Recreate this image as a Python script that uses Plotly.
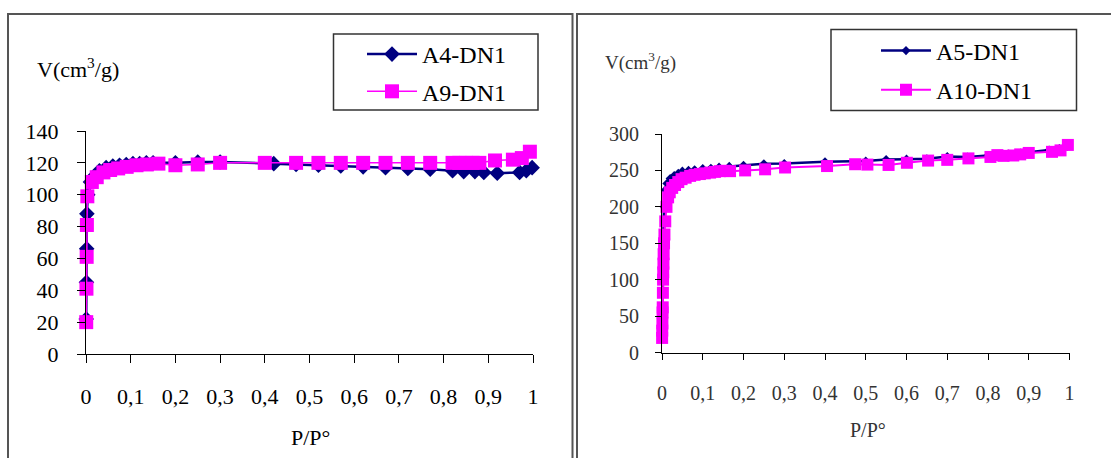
import plotly.graph_objects as go

# ---------------- data ----------------
# Left panel
a4_x = [0.0005, 0.001, 0.0015, 0.002, 0.004, 0.01, 0.02, 0.03, 0.045, 0.06, 0.075, 0.09,
        0.105, 0.12, 0.135, 0.15, 0.2, 0.25, 0.3, 0.42, 0.47, 0.52, 0.57, 0.62, 0.67,
        0.72, 0.77, 0.82, 0.845, 0.87, 0.89, 0.92, 0.97, 0.985, 0.998]
a4_y = [22, 45, 66, 88, 100, 108, 112, 115, 117, 118, 118.5, 119,
        119.5, 119.5, 120, 120, 120, 120.5, 120.5, 119.5, 119, 118.5, 118, 117.5, 117,
        116.5, 116, 115, 114.5, 114.5, 114, 113.5, 114, 115, 117]

a9_x = [0.0005, 0.001, 0.0015, 0.002, 0.003, 0.013, 0.024, 0.039, 0.054, 0.072, 0.091,
        0.113, 0.136, 0.162, 0.2, 0.25, 0.3, 0.4, 0.47, 0.52, 0.57, 0.62, 0.67, 0.72,
        0.77, 0.82, 0.835, 0.85, 0.865, 0.88, 0.915, 0.955, 0.975, 0.993]
a9_y = [20, 41, 61, 81, 99, 108, 111, 114, 115.5, 116.5, 117.5,
        118.5, 119, 119.5, 118.5, 119, 120, 120, 120, 120, 120, 120, 120, 120,
        120, 120, 120, 120, 120, 120, 121.5, 122, 123, 127]

# Right panel
a5_x = [0.0003, 0.0008, 0.0015, 0.003, 0.005, 0.008, 0.012, 0.02, 0.03, 0.04, 0.05,
        0.065, 0.08, 0.1, 0.12, 0.14, 0.165, 0.2, 0.25, 0.3, 0.4, 0.5, 0.55, 0.6,
        0.65, 0.7, 0.75, 0.8, 0.85, 0.88, 0.9, 0.95, 0.975, 0.995]
a5_y = [25, 60, 110, 160, 200, 223, 232, 239, 243, 246, 249,
        250, 251, 252.5, 253, 254.5, 255.5, 257, 259, 259.5, 262, 263, 265, 265.5,
        266, 269, 268.5, 270.5, 272.5, 274, 275, 278, 280, 283]

a10_x = [0.0003, 0.0006, 0.001, 0.0014, 0.0018, 0.0022, 0.0026, 0.003, 0.0035, 0.004,
         0.005, 0.006, 0.008, 0.011, 0.015, 0.019, 0.025, 0.032, 0.04, 0.048, 0.058,
         0.069, 0.08, 0.093, 0.105, 0.118, 0.13, 0.142, 0.155, 0.167, 0.204, 0.253,
         0.302, 0.405, 0.474, 0.504, 0.556, 0.601, 0.653, 0.70, 0.752, 0.806, 0.823,
         0.838, 0.862, 0.879, 0.90, 0.957, 0.978, 0.996]
a10_y = [20, 30, 40, 55, 62, 82, 100, 110, 122, 135,
         150, 162, 180, 200, 213, 220, 226, 230, 234, 238, 240,
         242.5, 244, 245, 246, 247, 248, 249, 249.5, 249, 250, 251.5,
         254, 256, 258.5, 258, 257.5, 260.5, 263.5, 264.5, 266.5, 268.5, 271,
         270, 270.5, 272, 274, 275.5, 277.5, 285]

x_tickvals = [0, 0.1, 0.2, 0.3, 0.4, 0.5, 0.6, 0.7, 0.8, 0.9, 1]
x_ticktext = ["0", "0,1", "0,2", "0,3", "0,4", "0,5", "0,6", "0,7", "0,8", "0,9", "1"]
yl_tickvals = [0, 20, 40, 60, 80, 100, 120, 140]
yr_tickvals = [0, 50, 100, 150, 200, 250, 300]

NAVY = "#000080"
MAGENTA = "#FF00FF"
W, H = 1111, 458


def px(x):
    return x / W


def py(y):
    return 1 - y / H


fig = go.Figure()

fig.add_trace(go.Scatter(x=a4_x, y=a4_y, name="A4-DN1", mode="lines+markers",
                         line=dict(color=NAVY, width=2.5),
                         marker=dict(symbol="diamond", size=12, color=NAVY),
                         xaxis="x", yaxis="y", legend="legend", legendgroup="g1",
                         cliponaxis=False))
fig.add_trace(go.Scatter(x=a9_x, y=a9_y, name="A9-DN1", mode="lines+markers",
                         line=dict(color=MAGENTA, width=1.5),
                         marker=dict(symbol="square", size=14, color=MAGENTA),
                         xaxis="x", yaxis="y", legend="legend", legendgroup="g2",
                         cliponaxis=False))
fig.add_trace(go.Scatter(x=a5_x, y=a5_y, name="A5-DN1", mode="lines+markers",
                         line=dict(color=NAVY, width=2.5),
                         marker=dict(symbol="diamond", size=7, color=NAVY),
                         xaxis="x2", yaxis="y2", legend="legend2", legendgroup="g3",
                         cliponaxis=False))
fig.add_trace(go.Scatter(x=a10_x, y=a10_y, name="A10-DN1", mode="lines+markers",
                         line=dict(color=MAGENTA, width=2),
                         marker=dict(symbol="square", size=12, color=MAGENTA),
                         xaxis="x2", yaxis="y2", legend="legend2", legendgroup="g4",
                         cliponaxis=False))

serif = "Liberation Serif, Times New Roman, serif"
left_font = dict(family=serif, size=22, color="black")
right_font = dict(family=serif, size=20, color="#333333")

common_x = dict(range=[0, 1], tickvals=x_tickvals, ticktext=x_ticktext, showgrid=False,
                zeroline=False, showline=True, linecolor="black", linewidth=1,
                ticks="outside", tickcolor="black", tickwidth=1, fixedrange=True,
                automargin=False)

fig.update_layout(
    template="none",
    width=W, height=H, margin=dict(l=0, r=0, t=0, b=0, pad=0, autoexpand=False),
    font=dict(family=serif, color="black"),
    paper_bgcolor="white", plot_bgcolor="white",
    xaxis=dict(common_x, domain=[px(86), px(533)], anchor="y", ticklen=8,
               tickfont=left_font, ticklabelstandoff=15),
    yaxis=dict(range=[0, 140], tickvals=yl_tickvals, domain=[py(354), py(131)],
               anchor="x", showgrid=False, zeroline=False, showline=True,
               linecolor="black", linewidth=1, ticks="outside", ticklen=8,
               tickcolor="black", tickfont=left_font, ticklabelstandoff=14,
               automargin=False, fixedrange=True),
    xaxis2=dict(common_x, domain=[px(662), px(1069.5)], anchor="y2", ticklen=6,
                tickfont=right_font, ticklabelstandoff=16),
    yaxis2=dict(range=[0, 300], tickvals=yr_tickvals, domain=[py(352.5), py(134)],
                anchor="x2", showgrid=False, zeroline=False, showline=True,
                linecolor="black", linewidth=1, ticks="outside", ticklen=6,
                tickcolor="black", tickfont=right_font, ticklabelstandoff=12,
                automargin=False, fixedrange=True),
    legend=dict(x=px(362), y=py(32), xanchor="left", yanchor="top",
                bgcolor="rgba(0,0,0,0)", borderwidth=0, itemwidth=50,
                tracegroupgap=3, traceorder="grouped",
                font=dict(family=serif, size=24, color="black")),
    legend2=dict(x=px(876), y=py(28.5), xanchor="left", yanchor="top",
                 bgcolor="rgba(0,0,0,0)", borderwidth=0, itemwidth=50,
                 tracegroupgap=5, traceorder="grouped",
                 font=dict(family=serif, size=24, color="black")),
    shapes=[
        # panel frames
        dict(type="rect", xref="paper", yref="paper", x0=px(8), x1=px(572.5),
             y0=-0.1, y1=py(14), line=dict(color="#555555", width=2)),
        dict(type="rect", xref="paper", yref="paper", x0=px(577), x1=1.1,
             y0=-0.1, y1=py(14), line=dict(color="#555555", width=2)),
        # legend frames
        dict(type="rect", xref="paper", yref="paper", x0=px(333.5), x1=px(538),
             y0=py(110), y1=py(34), line=dict(color="#333333", width=1.5)),
        dict(type="rect", xref="paper", yref="paper", x0=px(831), x1=px(1076.5),
             y0=py(110.5), y1=py(29.5), line=dict(color="#333333", width=1.5)),
    ],
    annotations=[
        dict(text="V(cm<sup>3</sup>/g)", xref="paper", yref="paper", x=px(35), y=py(68),
             xanchor="left", yanchor="middle", showarrow=False,
             font=dict(family=serif, size=22, color="black")),
        dict(text="P/P°", xref="paper", yref="paper", x=px(310), y=py(437),
             xanchor="center", yanchor="middle", showarrow=False,
             font=dict(family=serif, size=22, color="black")),
        dict(text="V(cm<sup>3</sup>/g)", xref="paper", yref="paper", x=px(603), y=py(62),
             xanchor="left", yanchor="middle", showarrow=False,
             font=dict(family=serif, size=19, color="#333333")),
        dict(text="P/P°", xref="paper", yref="paper", x=px(868), y=py(430),
             xanchor="center", yanchor="middle", showarrow=False,
             font=dict(family=serif, size=20, color="#333333")),
    ],
)

fig.write_html("out.html")
